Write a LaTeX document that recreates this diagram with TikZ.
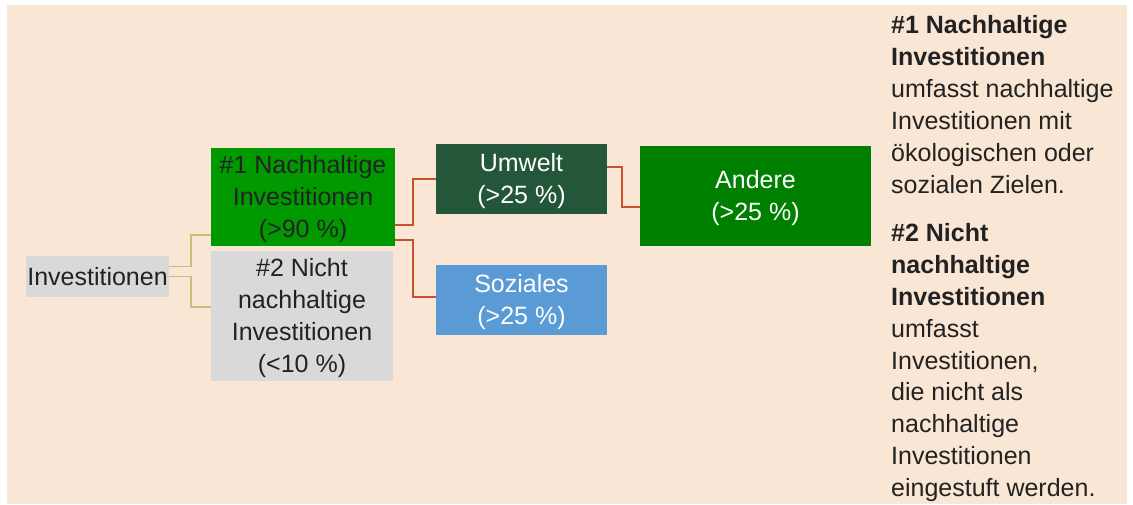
\documentclass[tikz,border=0pt]{standalone}
\usepackage{fontspec}
\setmainfont{Liberation Sans}
\usetikzlibrary{calc}
\definecolor{bgpeach}{HTML}{FAE6D4}
\definecolor{lightgray}{HTML}{D9D9D9}
\definecolor{greenA}{HTML}{009900}
\definecolor{greenDark}{HTML}{24573A}
\definecolor{greenB}{HTML}{008000}
\definecolor{blueS}{HTML}{5B9BD5}
\definecolor{olive}{HTML}{C9BF7A}
\definecolor{redline}{HTML}{C8502D}
\definecolor{txtdark}{HTML}{222222}
\newcommand{\toplift}{\rule{0pt}{23pt}}
\begin{document}
\begin{tikzpicture}[x=1pt,y=-1pt,
  diabox/.style={draw=none, inner sep=0pt, align=center, text=txtdark,
    font=\fontsize{25}{32}\selectfont},
  wtext/.style={text=white},
  desc/.style={anchor=base west, inner sep=0pt, text=txtdark,
    font=\fontsize{25}{32}\selectfont},
  oliveconn/.style={draw=olive, line width=1.5pt},
  redconn/.style={draw=redline, line width=1.5pt}]
\useasboundingbox (0,0) rectangle (1133,504);
\fill[bgpeach] (7,5) rectangle (1127,504);

\node[diabox, fill=lightgray, minimum width=143pt, minimum height=41pt] (inv) at (97.5,276.5) {Investitionen};
\node[diabox, fill=greenA, minimum width=184pt, minimum height=98pt] (n1) at (303,197) {\toplift\#1 Nachhaltige\\Investitionen\\(>90 \%)};
\node[diabox, fill=lightgray, minimum width=182pt, minimum height=130pt] (n2) at (302,316) {\toplift\#2 Nicht\\nachhaltige\\Investitionen\\(<10 \%)};
\node[diabox, wtext, fill=greenDark, minimum width=171pt, minimum height=70pt] (umw) at (521.5,179) {\toplift Umwelt\\(>25 \%)};
\node[diabox, wtext, fill=blueS, minimum width=171pt, minimum height=70pt] (soz) at (521.5,300) {\toplift Soziales\\(>25 \%)};
\node[diabox, wtext, fill=greenB, minimum width=231pt, minimum height=100pt] (and) at (755.5,196) {\toplift Andere\\(>25 \%)};

\draw[oliveconn] ($(inv.east)+(0,-10)$) -- ++(22,0) |- ($(n1.south west)+(0,-11)$);
\draw[oliveconn] (inv.east) -- ++(22,0) |- ($(n2.north west)+(0,56)$);
\draw[redconn] ($(n1.south east)+(0,-21)$) -- ++(18,0) |- (umw.west);
\draw[redconn] ($(n1.south east)+(0,-6)$) -- ++(18,0) |- ($(soz.west)+(0,-3)$);
\draw[redconn] ($(umw.east)+(0,-12)$) -- ++(15,0) |- ($(and.west)+(0,11)$);

\foreach \yy/\txt [count=\i] in {33/{\#1 Nachhaltige},65/{Investitionen},241/{\#2 Nicht},273/{nachhaltige},305/{Investitionen}}
  \node[desc, font=\fontsize{25}{32}\selectfont\bfseries] (hb\i) at (891,\yy) {\txt};
\foreach \yy/\txt [count=\i] in {97/{umfasst nachhaltige},129/{Investitionen mit},161/{ökologischen oder},193/{sozialen Zielen.},337/{umfasst},369/{Investitionen,},400/{die nicht als},432/{nachhaltige},464/{Investitionen},496/{eingestuft werden.}}
  \node[desc] (hr\i) at (891,\yy) {\txt};
\end{tikzpicture}
\end{document}
